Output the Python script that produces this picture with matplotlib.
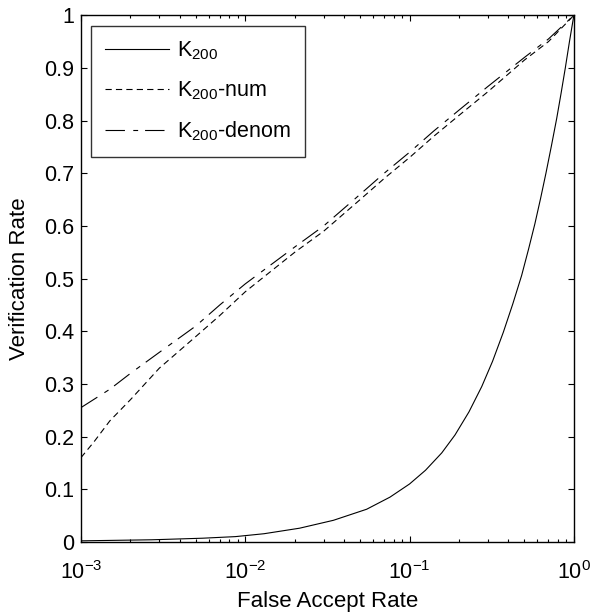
import numpy as np
import matplotlib
matplotlib.use("Agg")
import matplotlib.pyplot as plt
from matplotlib.ticker import LogLocator, FixedLocator, NullFormatter

plt.rcParams['font.family'] = ['Liberation Sans', 'DejaVu Sans']
plt.rcParams['mathtext.fontset'] = 'custom'
plt.rcParams['mathtext.rm'] = 'Liberation Sans'
plt.rcParams['mathtext.it'] = 'Liberation Sans'
plt.rcParams['lines.scale_dashes'] = False

# ROC curves: false accept rate vs verification rate
far_k200 = [1e-3, 2.7e-3, 5.5e-3, 8.7e-3, 0.013, 0.0214, 0.0344, 0.0548, 0.076, 0.1,
            0.125, 0.157, 0.189, 0.23, 0.275, 0.32, 0.372, 0.425, 0.481, 0.53,
            0.579, 0.627, 0.676, 0.73, 0.786, 0.835, 0.887, 0.94, 1.0]
vr_k200 = [0.002, 0.004, 0.007, 0.010, 0.0155, 0.026, 0.041, 0.062, 0.085, 0.11,
           0.136, 0.169, 0.203, 0.247, 0.295, 0.343, 0.398, 0.452, 0.506, 0.556,
           0.604, 0.652, 0.70, 0.752, 0.804, 0.851, 0.90, 0.95, 1.0]

far_num = [1e-3, 1.2e-3, 1.5e-3, 2e-3, 3e-3, 5e-3, 7e-3, 1e-2, 2e-2, 3e-2,
           5e-2, 7e-2, 0.1, 0.14, 0.2, 0.3, 0.5, 0.7, 1.0]
vr_num = [0.16, 0.19, 0.23, 0.27, 0.33, 0.39, 0.43, 0.475, 0.55, 0.59,
          0.65, 0.69, 0.73, 0.77, 0.81, 0.855, 0.915, 0.95, 1.0]

far_denom = [1e-3, 1.5e-3, 2e-3, 3e-3, 5e-3, 7e-3, 1e-2, 2e-2, 3e-2, 5e-2,
             7e-2, 0.1, 0.14, 0.2, 0.3, 0.5, 0.7, 1.0]
vr_denom = [0.255, 0.29, 0.32, 0.36, 0.41, 0.45, 0.49, 0.56, 0.60, 0.66,
            0.70, 0.74, 0.78, 0.82, 0.865, 0.92, 0.955, 1.0]

labels = [r'K$_{200}$', r'K$_{200}$-num', r'K$_{200}$-denom']
ytick_labels = ['0', '0.1', '0.2', '0.3', '0.4', '0.5', '0.6', '0.7', '0.8', '0.9', '1']

fig = plt.figure(figsize=(5.91, 6.13), dpi=100)
ax = fig.add_axes([0.137, 0.116, 0.834, 0.859])

lw = 0.8
ax.plot(far_k200, vr_k200, color='black', lw=lw, linestyle='-', label=labels[0])
ax.plot(far_num, vr_num, color='black', lw=lw, linestyle=(0, (4.5, 3)), label=labels[1])
ax.plot(far_denom, vr_denom, color='black', lw=lw, linestyle=(0, (14, 6, 3.5, 5)), label=labels[2])

ax.set_xscale('log')
ax.set_xlim(1e-3, 1)
ax.set_ylim(0, 1)
ax.yaxis.set_major_locator(FixedLocator(np.arange(0, 1.01, 0.1)))
ax.set_yticklabels(ytick_labels)
ax.xaxis.set_major_locator(LogLocator(base=10, numticks=10))
ax.xaxis.set_minor_locator(LogLocator(base=10, subs=np.arange(2, 10), numticks=20))
ax.xaxis.set_minor_formatter(NullFormatter())

fs = 15.5
ax.tick_params(which='both', direction='in', top=True, right=True, labelsize=fs, width=0.8)
ax.tick_params(which='major', length=4)
ax.tick_params(which='minor', length=2.5)
ax.tick_params(axis='x', which='major', pad=14)
ax.tick_params(axis='y', which='major', pad=5)
for s in ax.spines.values():
    s.set_linewidth(1.0)

ax.set_xlabel('False Accept Rate', fontsize=16, labelpad=5)
ax.set_ylabel('Verification Rate', fontsize=16, labelpad=10)

leg = ax.legend(loc='upper left', bbox_to_anchor=(0.02, 0.98), fontsize=fs,
                frameon=True, fancybox=False, edgecolor='black', handlelength=3.0,
                handletextpad=0.35, borderpad=0.65, labelspacing=0.8, borderaxespad=0)
leg.get_frame().set_linewidth(1.0)

fig.savefig('out.png', dpi=100, facecolor='white')
